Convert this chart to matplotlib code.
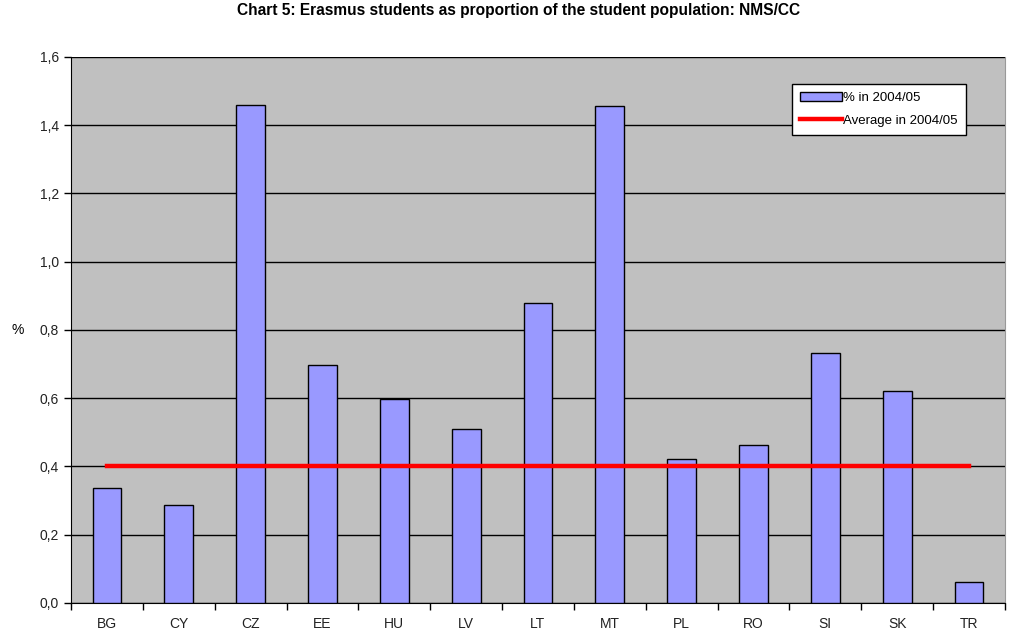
import numpy as np
import matplotlib
matplotlib.use("Agg")
from matplotlib import pyplot as plt
from matplotlib.ticker import FuncFormatter, MultipleLocator

countries = ["BG", "CY", "CZ", "EE", "HU", "LV", "LT", "MT", "PL", "RO", "SI", "SK", "TR"]
share_0405 = [0.337, 0.287, 1.46, 0.698, 0.598, 0.51, 0.88, 1.455, 0.422, 0.463, 0.733, 0.622, 0.062]
average_0405 = [0.40] * len(countries)

plt.rcParams['font.family'] = ['Liberation Sans', 'DejaVu Sans']

fig = plt.figure(figsize=(10.12, 6.36), dpi=100)
ax = fig.add_axes([0.0702, 0.0519, 0.9228, 0.8585])
ax.set_facecolor('#C0C0C0')

x = np.arange(len(countries))
bars = ax.bar(x, share_0405, width=0.4, color='#9999FF', edgecolor='black', linewidth=1.0,
              zorder=3)
line, = ax.plot(x, average_0405, color='#FF0000', linewidth=3.2, zorder=4)

ax.set_xlim(-0.5, len(countries) - 0.5)
ax.set_ylim(0, 1.6)
ax.yaxis.set_major_locator(MultipleLocator(0.2))
ax.yaxis.set_major_formatter(FuncFormatter(lambda v, p: ('%.1f' % v).replace('.', ',')))
ax.yaxis.grid(True, color='black', linewidth=1.0, zorder=1)
ax.set_axisbelow(True)

# labels at bar centres, tick marks between categories
ax.set_xticks(x)
ax.set_xticklabels(countries)
ax.set_xticks(np.arange(-0.5, len(countries)), minor=True)
ax.tick_params(axis='x', which='major', length=0, pad=10, labelsize=10)
ax.tick_params(axis='x', which='minor', length=5, width=1, direction='out')
ax.tick_params(axis='y', length=5, width=1, direction='out', labelsize=10)
ax.tick_params(axis='both', colors='black', labelcolor='#222222')

ax.spines['top'].set_visible(False)
ax.spines['right'].set_color('#999999')

ax.set_ylabel('%', rotation=0, fontsize=10, labelpad=16, va='center')

leg = ax.legend([bars, line], ['% in 2004/05', 'Average in 2004/05'],
                loc='upper right', bbox_to_anchor=(0.958, 0.951), borderaxespad=0,
                fancybox=False, edgecolor='black', framealpha=1, fontsize=9.5,
                handlelength=3.2, borderpad=0.6, labelspacing=0.8, handletextpad=0.1)
leg.get_frame().set_linewidth(1.0)

fig.suptitle('Chart 5: Erasmus students as proportion of the student population: NMS/CC',
             fontsize=11.2, fontweight='bold', y=0.995, x=0.512)

fig.savefig('out.png', dpi=100)
